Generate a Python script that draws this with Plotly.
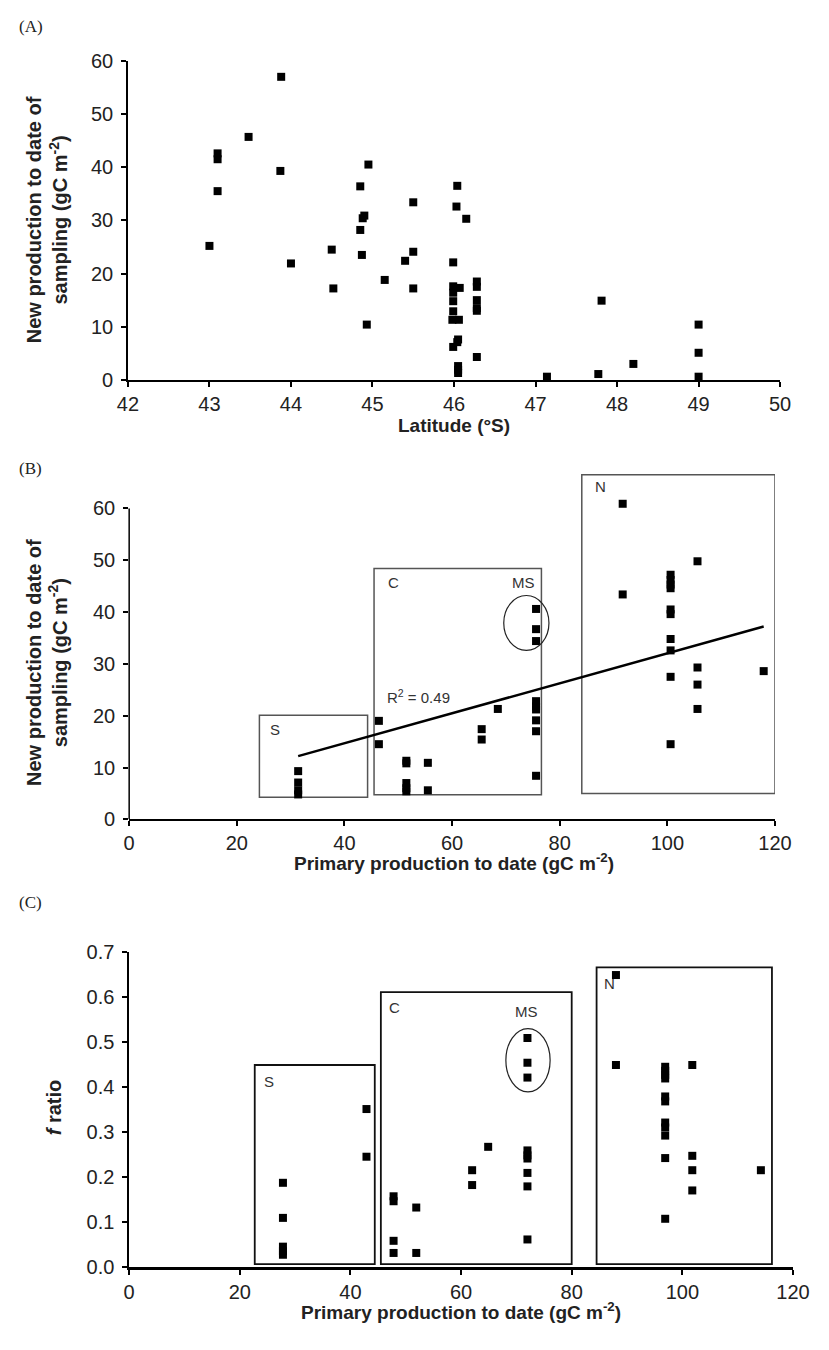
import plotly.graph_objects as go

# ---------------- data ----------------
# Panel A: latitude vs new production
a_lat = [43.0, 43.1, 43.1, 43.1, 43.48, 43.88, 43.87, 44.0, 44.5, 44.52,
         44.85, 44.95, 44.9, 44.88, 44.85, 44.87, 44.93, 45.15, 45.4, 45.5,
         45.5, 45.5, 46.04, 46.03, 46.15, 45.99, 45.99, 46.07, 45.99, 45.99,
         45.99, 45.98, 46.06, 45.99, 46.04, 46.05, 46.05, 46.05, 46.05, 46.28,
         46.28, 46.28, 46.28, 46.28, 46.28, 47.14, 47.77, 47.81, 48.2, 49.0,
         49.0, 49.0]
a_np = [25.2, 42.6, 41.5, 35.5, 45.7, 57.0, 39.3, 21.9, 24.5, 17.2,
        36.4, 40.5, 30.9, 30.4, 28.2, 23.5, 10.4, 18.8, 22.4, 33.4,
        24.1, 17.2, 36.5, 32.6, 30.3, 22.1, 17.6, 17.3, 16.4, 14.8,
        12.9, 11.3, 11.3, 6.2, 7.1, 7.6, 2.6, 1.9, 1.3, 18.5,
        17.5, 15.0, 13.5, 13.0, 4.3, 0.6, 1.1, 14.9, 3.0, 10.4,
        5.1, 0.6]

# Panel B: primary production vs new production
b_pp = [31.4, 31.4, 31.4, 31.4, 46.4, 46.4, 51.5, 51.5, 51.5, 51.5,
        51.5, 55.5, 55.5, 65.5, 65.5, 68.5, 75.6, 75.6, 75.6, 75.6,
        75.6, 75.6, 75.6, 75.6, 75.6, 91.7, 91.7, 100.6, 100.6, 100.6,
        100.6, 100.6, 100.6, 100.6, 100.6, 100.6, 100.6, 105.6, 105.6, 105.6,
        105.6, 117.9]
b_np = [9.3, 7.1, 5.6, 4.8, 19.0, 14.5, 11.3, 10.8, 7.0, 6.0,
        5.4, 10.9, 5.6, 17.4, 15.4, 21.3, 22.8, 21.8, 21.2, 19.1,
        17.0, 8.4, 40.6, 36.7, 34.4, 60.9, 43.4, 47.2, 46.2, 45.3,
        44.6, 40.5, 39.6, 34.8, 32.6, 27.5, 14.5, 49.8, 29.3, 26.0,
        21.3, 28.6]
trend_x = [31.4, 117.9]
trend_y = [12.2, 37.2]
r2_text = "R<sup>2</sup> = 0.49"

# Panel C: primary production vs f ratio
c_pp = [27.8, 27.8, 27.8, 27.8, 27.8, 42.9, 42.9, 47.8, 47.8, 47.8,
        47.8, 51.9, 51.9, 62.0, 62.0, 64.9, 72.0, 72.0, 72.0, 72.0,
        72.0, 72.0, 72.0, 72.0, 72.0, 88.0, 88.0, 96.9, 96.9, 96.9,
        96.9, 96.9, 96.9, 96.9, 96.9, 96.9, 96.9, 96.9, 101.8, 101.8,
        101.8, 101.8, 114.2]
c_f = [0.187, 0.109, 0.045, 0.035, 0.027, 0.351, 0.245, 0.157, 0.146, 0.058,
       0.031, 0.132, 0.031, 0.215, 0.182, 0.267, 0.259, 0.248, 0.241, 0.209,
       0.179, 0.061, 0.509, 0.454, 0.421, 0.649, 0.449, 0.445, 0.436, 0.427,
       0.419, 0.379, 0.368, 0.321, 0.310, 0.292, 0.242, 0.107, 0.449, 0.247,
       0.215, 0.170, 0.215]

# Region groupings (S, C, N boxes; MS ellipse), in data units
b_regions = {"S": (24.2, 44.3, 4.25, 20.1), "C": (45.5, 76.6, 4.75, 48.4),
             "N": (84.1, 120.0, 5.0, 66.5)}
b_ms = (69.6, 78.0, 32.6, 43.2)
c_regions = {"S": (22.7, 44.4, 0.006, 0.449), "C": (45.5, 80.0, 0.006, 0.611),
             "N": (84.5, 116.2, 0.006, 0.666)}
c_ms = (68.1, 76.1, 0.389, 0.530)

W, H = 829, 1350
FONT = "Liberation Sans, Arial, sans-serif"


def px(v):
    return v / W


def py(v):
    return 1 - v / H


fig = go.Figure()
mk = dict(symbol="square", size=8, color="black")
fig.add_trace(go.Scatter(x=a_lat, y=a_np, mode="markers", marker=mk,
                         xaxis="x", yaxis="y", showlegend=False, cliponaxis=False))
fig.add_trace(go.Scatter(x=trend_x, y=trend_y, mode="lines",
                         line=dict(color="black", width=2.5),
                         xaxis="x2", yaxis="y2", showlegend=False))
fig.add_trace(go.Scatter(x=b_pp, y=b_np, mode="markers", marker=mk,
                         xaxis="x2", yaxis="y2", showlegend=False, cliponaxis=False))
fig.add_trace(go.Scatter(x=c_pp, y=c_f, mode="markers", marker=mk,
                         xaxis="x3", yaxis="y3", showlegend=False, cliponaxis=False))

tickfont = dict(family=FONT, size=20, color="#222")
common = dict(showgrid=False, zeroline=False, ticks="outside", ticklen=5,
              tickwidth=1.5, tickcolor="black", tickfont=tickfont,
              linecolor="black")
ycommon = dict(common, ticklabelstandoff=4)

fig.update_layout(
    width=W, height=H, margin=dict(l=0, r=0, t=0, b=0),
    paper_bgcolor="white", plot_bgcolor="white",
    xaxis=dict(domain=[px(121), px(796)], range=[42, 50], dtick=1,
               anchor="y", showline=True, linewidth=2, **common),
    yaxis=dict(domain=[py(375), py(50.7)], range=[0, 60], dtick=10,
               anchor="x", showline=True, linewidth=1.5, **ycommon),
    xaxis2=dict(domain=[px(122.3), px(790.7)], range=[0, 120], dtick=20,
                anchor="y2", showline=True, linewidth=2, **common),
    yaxis2=dict(domain=[py(821.7), py(468.8)], range=[0, 67],
                tickvals=[0, 10, 20, 30, 40, 50, 60],
                anchor="x2", showline=False, **ycommon),
    xaxis3=dict(domain=[px(122.3), px(809.3)], range=[0, 120], dtick=20,
                anchor="y3", showline=True, linewidth=3, **common),
    yaxis3=dict(domain=[py(1276.7), py(956.7)], range=[0, 0.7], dtick=0.1,
                tickformat=".1f", anchor="x3", showline=True, linewidth=1.5,
                **ycommon),
)

shapes = []
# manual y axis line for panel B (only up to 60)
shapes.append(dict(type="line", xref="x2 domain", yref="y2", x0=0, x1=0,
                   y0=0, y1=60, line=dict(color="black", width=1.5)))
for name, (x0, x1, y0, y1) in b_regions.items():
    shapes.append(dict(type="rect", xref="x2", yref="y2", x0=x0, x1=x1,
                       y0=y0, y1=y1, line=dict(color="#555", width=1.5),
                       layer="below"))
shapes.append(dict(type="circle", xref="x2", yref="y2", x0=b_ms[0], x1=b_ms[1],
                   y0=b_ms[2], y1=b_ms[3], line=dict(color="#222", width=1.2)))
for name, (x0, x1, y0, y1) in c_regions.items():
    shapes.append(dict(type="rect", xref="x3", yref="y3", x0=x0, x1=x1,
                       y0=y0, y1=y1, line=dict(color="#111", width=1.8),
                       layer="below"))
shapes.append(dict(type="circle", xref="x3", yref="y3", x0=c_ms[0], x1=c_ms[1],
                   y0=c_ms[2], y1=c_ms[3], line=dict(color="#222", width=1.2)))
fig.update_layout(shapes=shapes)

ann = []
lab = dict(family=FONT, size=15, color="#333")
# region labels B
for t, x, y in [("S", 25.8, 17.4), ("C", 47.8, 45.8), ("MS", 73.3, 45.8), ("N", 86.1, 64.2)]:
    ann.append(dict(text=t, x=x, y=y, xref="x2", yref="y2", showarrow=False,
                    font=lab, xanchor="center" if t == "MS" else "left", yanchor="middle"))
ann.append(dict(text=r2_text, x=47.6, y=23.7, xref="x2", yref="y2", showarrow=False,
                font=lab, xanchor="left", yanchor="middle"))
# region labels C
for t, x, y in [("S", 24.0, 0.413), ("C", 46.6, 0.576), ("MS", 71.8, 0.568), ("N", 85.4, 0.631)]:
    ann.append(dict(text=t, x=x, y=y, xref="x3", yref="y3", showarrow=False,
                    font=lab, xanchor="center" if t == "MS" else "left", yanchor="middle"))

titlefont = dict(family=FONT, size=20, color="#222")
xtitlefont = dict(family=FONT, size=19, color="#222")


def pann(text, x, y, font, angle=0, xa="center", ya="middle"):
    ann.append(dict(text=text, x=px(x), y=py(y), xref="paper", yref="paper",
                    showarrow=False, xanchor=xa, yanchor=ya, textangle=angle,
                    font=font))


# panel letters
serif = dict(family="Liberation Serif, Times New Roman, serif", size=17, color="#222")
pann("(A)", 6, 16, serif, xa="left")
pann("(B)", 6, 465, serif, xa="left")
pann("(C)", 6, 906, serif, xa="left")
# axis titles
pann("<b>Latitude (°S)</b>", 458, 421, xtitlefont)
pann("<b>Primary production to date (gC m<sup>-2</sup>)</b>", 458, 865, xtitlefont)
pann("<b>Primary production to date (gC m<sup>-2</sup>)</b>", 466, 1322, xtitlefont)
pann("<b>New production to date of<br>sampling (gC m<sup>-2</sup>)</b>", 37, 212,
     titlefont, angle=-90)
pann("<b>New production to date of<br>sampling (gC m<sup>-2</sup>)</b>", 37, 662,
     titlefont, angle=-90)
pann("<b><i>f</i> ratio</b>", 44, 1115, titlefont, angle=-90)
fig.update_layout(annotations=ann)

fig.write_html("out.html")
